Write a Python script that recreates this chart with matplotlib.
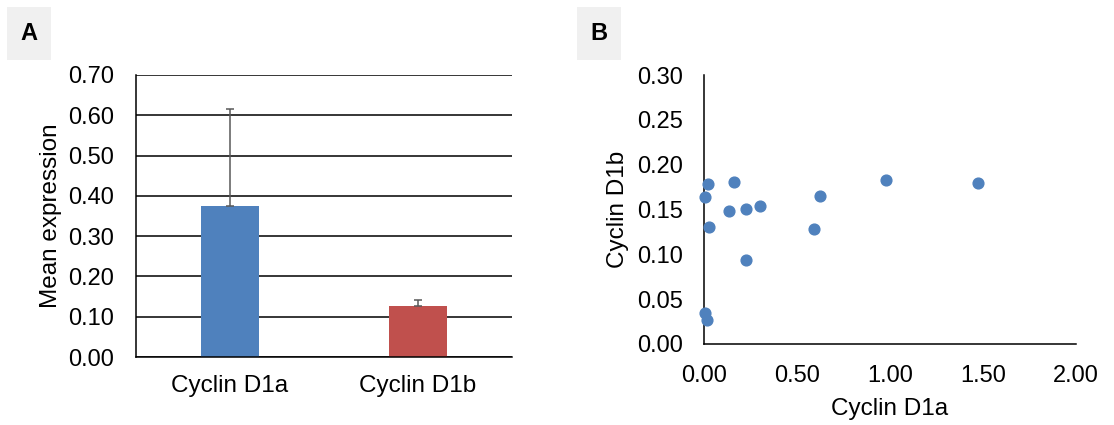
import matplotlib
matplotlib.use("Agg")
import matplotlib.pyplot as plt
from matplotlib.patches import Rectangle

plt.rcParams['font.family'] = ['Liberation Sans', 'DejaVu Sans']

# Panel A data
categories = ["Cyclin D1a", "Cyclin D1b"]
means = [0.375, 0.127]
errors_up = [0.240, 0.014]
bar_colors = ["#4F81BD", "#C0504D"]
yticks_a = [0.0, 0.1, 0.2, 0.3, 0.4, 0.5, 0.6, 0.7]

# Panel B data
d1a = [0.023, 0.163, 0.980, 1.473, 0.004, 0.624, 0.136, 0.226, 0.301,
       0.025, 0.593, 0.226, 0.004, 0.014]
d1b = [0.178, 0.181, 0.183, 0.180, 0.164, 0.165, 0.148, 0.151, 0.154,
       0.131, 0.128, 0.094, 0.035, 0.027]
xticks_b = [0.0, 0.5, 1.0, 1.5, 2.0]
yticks_b = [0.0, 0.05, 0.10, 0.15, 0.20, 0.25, 0.30]

W, H = 1114, 425
fig = plt.figure(figsize=(W / 100, H / 100), dpi=100)

def ax_rect(l, t, r, b):
    return [l / W, (H - b) / H, (r - l) / W, (b - t) / H]

TFS = 17
LFS = 17.5

# ---------- Panel A ----------
axA = fig.add_axes(ax_rect(136, 75, 512, 357))
x = range(len(categories))
axA.bar(x, means, width=0.31, color=bar_colors, zorder=3)
axA.errorbar(x, means, yerr=[[0, 0], errors_up], fmt='none', ecolor='#595959',
             elinewidth=1.1, capsize=2.6, capthick=1.1, zorder=4)
axA.set_xlim(-0.5, 1.5)
axA.set_ylim(0, 0.7)
axA.set_yticks(yticks_a)
axA.set_yticklabels([f"{v:.2f}" for v in yticks_a], fontsize=TFS)
axA.set_xticks(list(x))
axA.set_xticklabels(categories, fontsize=LFS)
axA.tick_params(axis='both', length=0)
axA.tick_params(axis='y', pad=16)
axA.tick_params(axis='x', pad=13)
axA.yaxis.grid(True, color='black', linewidth=1.1, zorder=0)
axA.set_axisbelow(True)
for s in ['top', 'right']:
    axA.spines[s].set_visible(False)
for s in ['left', 'bottom']:
    axA.spines[s].set_color('black')
    axA.spines[s].set_linewidth(1.1)
    axA.spines[s].set_zorder(5)
axA.set_ylabel("Mean expression", fontsize=LFS, labelpad=4)

# ---------- Panel B ----------
axB = fig.add_axes(ax_rect(704, 75, 1076, 344))
axB.scatter(d1a, d1b, s=60, color="#4F81BD", zorder=3, clip_on=False)
axB.set_xlim(0, 2.0)
axB.set_ylim(0, 0.30)
axB.set_xticks(xticks_b)
axB.set_xticklabels([f"{v:.2f}" for v in xticks_b], fontsize=TFS)
axB.set_yticks(yticks_b)
axB.set_yticklabels([f"{v:.2f}" for v in yticks_b], fontsize=TFS)
axB.tick_params(axis='both', length=0)
axB.tick_params(axis='y', pad=15)
axB.tick_params(axis='x', pad=15)
for s in ['top', 'right']:
    axB.spines[s].set_visible(False)
for s in ['left', 'bottom']:
    axB.spines[s].set_color('black')
    axB.spines[s].set_linewidth(1.1)
axB.set_xlabel("Cyclin D1a", fontsize=LFS, labelpad=8)
axB.set_ylabel("Cyclin D1b", fontsize=LFS, labelpad=6)

# ---------- Panel labels ----------
for (l, t, r, b, txt) in [(7, 7, 51, 60, "A"), (577, 7, 621, 60, "B")]:
    fig.patches.append(Rectangle((l / W, (H - b) / H), (r - l) / W, (b - t) / H,
                                 transform=fig.transFigure, facecolor='#f0f0f0',
                                 edgecolor='none', zorder=0))
    fig.text((l + r) / 2 / W, (H - (t + b) / 2) / H, txt, fontsize=17,
             fontweight='bold', ha='center', va='center')

fig.savefig("out.png", dpi=100)
